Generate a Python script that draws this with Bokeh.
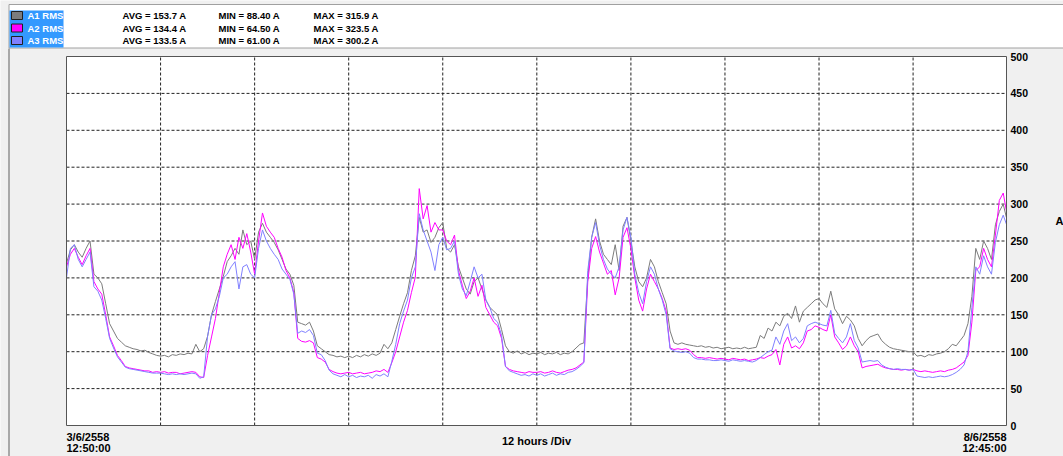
from bokeh.plotting import figure
from bokeh.models import Range1d
from bokeh.embed import file_html
from bokeh.resources import INLINE
from bokeh.core.properties import value

# ---------------- data ----------------
series_names = ["A1 RMS", "A2 RMS", "A3 RMS"]
avg_vals = ["153.7", "134.4", "133.5"]
min_vals = ["88.40", "64.50", "61.00"]
max_vals = ["315.9", "323.5", "300.2"]

start_date, start_time = "3/6/2558", "12:50:00"
end_date, end_time = "8/6/2558", "12:45:00"
div_label = "12 hours /Div"
unit_label = "A"

T_END = 119.9167  # hours from 3/6 12:50 to 8/6 12:45
hours = [i * 0.5 for i in range(240)] + [119.9]
div_ticks = [12, 24, 36, 48, 60, 72, 84, 96, 108]
y_ticks = [0, 50, 100, 150, 200, 250, 300, 350, 400, 450, 500]

a1 = [220, 238, 245, 235, 228, 240, 250, 205, 200, 192, 165, 138, 128, 118, 113, 108, 106, 104, 103, 101, 102, 99, 97, 95,
      94, 95, 93, 96, 95, 97, 96, 98, 97, 110, 100, 104, 121, 150, 168, 185, 202, 222, 230, 240, 232, 265, 245, 250,
      225, 262, 274, 262, 255, 248, 238, 225, 212, 205, 190, 140, 138, 136, 140, 128, 108, 104, 100, 96, 95, 93, 94, 92,
      94, 92, 95, 93, 96, 94, 97, 95, 98, 110, 104, 112, 130, 148, 165, 180, 210, 230, 282, 262, 265, 248, 255, 268,
      275, 240, 235, 245, 215, 200, 185, 178, 195, 200, 185, 170, 160, 155, 150, 130, 108, 100, 98, 101, 97, 99, 96, 98,
      97, 99, 96, 98, 97, 99, 96, 98, 97, 100, 105, 110, 112, 200, 255, 280, 250, 232, 225, 218, 245, 210, 270, 282,
      250, 215, 195, 188, 200, 225, 215, 195, 180, 165, 128, 112, 110, 112, 110, 109, 108, 107, 108, 106, 107, 105, 106, 104,
      105, 106, 104, 105, 104, 106, 104, 105, 106, 122, 118, 132, 128, 140, 135, 148, 152, 145, 162, 140, 155, 160, 165, 170,
      172, 165, 160, 182, 158, 150, 138, 148, 143, 135, 118, 108, 115, 120, 122, 124, 115, 110, 106, 104, 103, 102, 101, 100,
      100, 94, 95, 93, 96, 95, 97, 98, 100, 104, 110, 108, 115, 122, 138, 175, 240, 225, 250, 240, 225, 272, 290, 300,
      282]

a2 = [215, 232, 240, 228, 218, 230, 240, 195, 185, 178, 150, 120, 108, 95, 88, 80, 78, 77, 76, 75, 74, 74, 72, 73,
      72, 73, 71, 72, 72, 70, 71, 72, 73, 72, 66, 65, 95, 120, 145, 180, 215, 232, 245, 225, 255, 240, 260, 235,
      205, 250, 288, 270, 262, 255, 240, 228, 210, 200, 180, 118, 114, 113, 115, 112, 92, 90, 86, 76, 73, 71, 70, 71,
      72, 70, 71, 72, 70, 71, 72, 74, 73, 76, 72, 85, 100, 120, 140, 156, 180, 201, 321, 280, 298, 262, 275, 265,
      265, 250, 245, 258, 210, 190, 172, 182, 200, 175, 190, 160, 150, 140, 135, 118, 80, 76, 74, 73, 72, 71, 73, 72,
      72, 73, 71, 72, 74, 72, 71, 73, 75, 76, 78, 82, 86, 195, 240, 256, 235, 220, 205, 210, 177, 200, 255, 268,
      240, 200, 170, 155, 185, 205, 195, 185, 172, 155, 105, 103, 104, 103, 104, 102, 96, 92, 92, 91, 92, 91, 90, 91,
      90, 89, 91, 90, 89, 90, 88, 89, 90, 92, 91, 94, 96, 103, 82, 110, 120, 105, 108, 104, 112, 128, 130, 135,
      133, 130, 128, 150, 120, 112, 103, 108, 120, 108, 100, 78, 80, 81, 82, 83, 80, 78, 77, 76, 76, 75, 76, 75,
      76, 74, 73, 74, 73, 72, 73, 74, 73, 75, 76, 78, 82, 86, 95, 140, 210, 215, 240, 225, 215, 258, 305, 315,
      291]

a3 = [200, 240, 245, 225, 215, 225, 235, 188, 182, 170, 145, 118, 105, 93, 86, 79, 77, 76, 75, 74, 73, 72, 71, 71,
      71, 70, 69, 70, 69, 70, 69, 70, 71, 70, 64, 66, 121, 150, 158, 175, 200, 205, 215, 222, 185, 215, 218, 205,
      200, 240, 265, 250, 240, 232, 225, 212, 205, 198, 178, 125, 128, 126, 130, 122, 98, 96, 88, 75, 70, 68, 66, 69,
      66, 68, 65, 67, 66, 68, 64, 69, 67, 70, 66, 87, 110, 138, 155, 170, 200, 215, 287, 265, 250, 235, 210, 245,
      255, 238, 240, 250, 205, 185, 176, 195, 215, 200, 205, 170, 160, 145, 140, 122, 80, 74, 72, 70, 68, 69, 67, 70,
      68, 70, 67, 69, 71, 68, 70, 69, 72, 73, 76, 80, 85, 210, 255, 275, 245, 225, 212, 205, 200, 215, 265, 282,
      255, 205, 180, 165, 195, 215, 205, 185, 170, 150, 104, 101, 100, 99, 100, 98, 92, 90, 90, 89, 89, 88, 88, 89,
      88, 87, 89, 88, 87, 88, 87, 86, 88, 92, 96, 100, 102, 120, 110, 128, 138, 115, 120, 112, 118, 135, 138, 140,
      138, 136, 135, 156, 125, 118, 112, 120, 138, 115, 105, 86, 87, 88, 87, 88, 82, 79, 77, 76, 77, 76, 76, 75,
      76, 67, 66, 65, 66, 65, 66, 67, 66, 67, 69, 72, 76, 82, 100, 160, 215, 205, 230, 215, 205, 248, 272, 285,
      273]

series_values = [a1, a2, a3]
series_colors = ["#7c7c7c", "#ff00ff", "#8080ff"]

# ---------------- layout (pixels) ----------------
FONT = "Liberation Sans"
W, H = 1063, 456
L, R, T, B = 66, 1006, 56, 425          # plot area in canvas pixels
PPH = (R - L) / T_END                    # pixels per hour
PPU = (B - T) / 500.0                    # pixels per amp


def X(px):
    return (px - L) / PPH


def Y(py):
    return (B - py) / PPU


p = figure(width=W, height=H,
           x_range=Range1d(X(0), X(W)), y_range=Range1d(Y(H), Y(0)),
           x_axis_location=None, y_axis_location=None, output_backend="svg",
           toolbar_location=None, min_border=0, outline_line_color=None,
           background_fill_color="#f0f0f0", border_fill_color="#f0f0f0")
p.grid.visible = False

# header panel
p.quad(left=X(8.5), right=X(1080), top=Y(4), bottom=Y(47.5), fill_color="white",
       line_color="#a0a0a0", line_width=1)
# left edge of the chart panel
p.segment(x0=X(8.5), y0=Y(48), x1=X(8.5), y1=Y(460), line_color="#909090", line_width=1.5)

p.quad(left=X(9), right=X(63), top=Y(10), bottom=Y(47), fill_color="#3399ff", line_color=None)

row_py = [15, 27.5, 40]
row_y = [Y(v) for v in row_py]
p.rect(x=[X(16.5)] * 3, y=row_y, width=11 / PPH, height=8 / PPU, fill_color=series_colors,
       line_color="#202020", line_width=1)
txt_kw = dict(text_font=value(FONT), text_font_style="bold", text_font_size="9.5px",
              text_baseline="middle")
p.text(x=[X(27)] * 3, y=row_y, text=series_names, text_color="white", **txt_kw)
p.text(x=[X(122)] * 3, y=row_y, text=["AVG = %s A" % v for v in avg_vals], text_color="black", **txt_kw)
p.text(x=[X(218)] * 3, y=row_y, text=["MIN = %s A" % v for v in min_vals], text_color="black", **txt_kw)
p.text(x=[X(313)] * 3, y=row_y, text=["MAX = %s A" % v for v in max_vals], text_color="black", **txt_kw)

# plot area
p.quad(left=0, right=T_END, bottom=0, top=500, fill_color="white", line_color=None)

# dashed grid from the tick lists
p.segment(x0=div_ticks, y0=[0] * len(div_ticks), x1=div_ticks, y1=[500] * len(div_ticks),
          line_color="#222222", line_dash="3 2", line_width=1)
inner_y = y_ticks[1:-1]
p.segment(x0=[0] * len(inner_y), y0=inner_y, x1=[T_END] * len(inner_y), y1=inner_y,
          line_color="#222222", line_dash="3 2", line_width=1)

# series
for vals, col in zip(series_values, series_colors):
    p.line(hours, vals, line_color=col, line_width=1)

# frame
p.quad(left=0, right=T_END, bottom=0, top=500, fill_color=None, line_color="#555555", line_width=1)

# right-side value labels
p.text(x=[X(1010)] * len(y_ticks), y=y_ticks, text=[str(v) for v in y_ticks], text_color="black",
       text_font=value(FONT), text_font_style="bold", text_font_size="10.5px", text_baseline="middle")

lab_kw = dict(text_font=value(FONT), text_font_style="bold", text_font_size="11px",
              text_color="black", text_baseline="middle")
p.text(x=[X(1055)], y=[Y(220)], text=[unit_label], text_align="left", **lab_kw)

# bottom time labels
p.text(x=[0, 0], y=[Y(436.5), Y(447.5)], text=[start_date, start_time], text_align="left", **lab_kw)
p.text(x=[T_END, T_END], y=[Y(436.5), Y(447.5)], text=[end_date, end_time], text_align="right", **lab_kw)
p.text(x=[T_END / 2], y=[Y(440)], text=[div_label], text_align="center", **lab_kw)

open("out.html", "w").write(file_html(p, INLINE))
